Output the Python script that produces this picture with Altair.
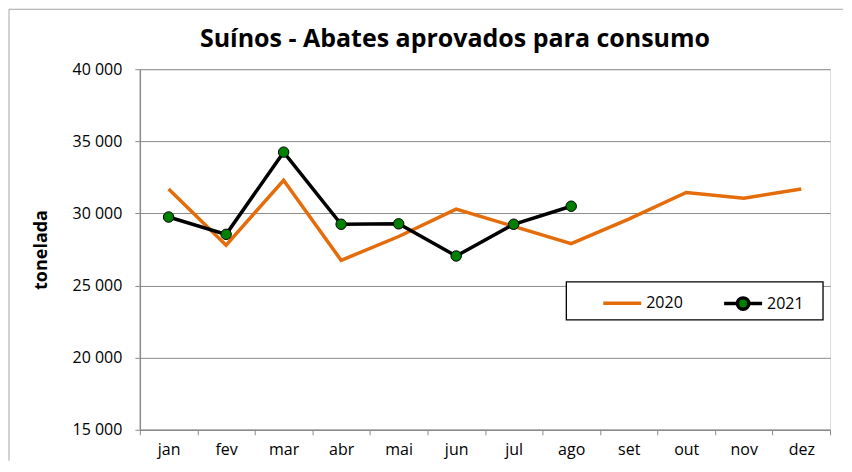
import pandas as pd
import altair as alt

MESES = ["jan", "fev", "mar", "abr", "mai", "jun", "jul", "ago", "set", "out", "nov", "dez"]
ANOS = ["2020", "2021"]
V2020 = [31700, 27800, 32300, 26750, 28400, 30300, 29100, 27900, 29600, 31450, 31050, 31700]
V2021 = [29750, 28550, 34250, 29250, 29280, 27050, 29250, 30500]
Y_TICKS = [15000, 20000, 25000, 30000, 35000, 40000]

FONT = "Open Sans"
LARANJA = "#E46C0A"
CINZA = "#8C8C8C"

rows = []
for ano, vals in zip(ANOS, [V2020, V2021]):
    for m, v in zip(MESES, vals):
        rows.append({"mes": m, "ano": ano, "valor": v})
df = pd.DataFrame(rows)

W, H = 691, 361

x_enc = alt.X("mes:N", sort=MESES, title=None,
              scale=alt.Scale(type="band", domain=MESES, paddingInner=0, paddingOuter=0),
              axis=alt.Axis(tickBand="extent", labelAngle=0, labelFontSize=16, labelFont=FONT,
                            labelColor="black", tickColor=CINZA, domainColor=CINZA,
                            tickSize=5, labelPadding=7, grid=False, domainWidth=1.5))
y_enc = alt.Y("valor:Q", title="tonelada",
              scale=alt.Scale(domain=[15000, 40000], nice=False, zero=False),
              axis=alt.Axis(values=Y_TICKS, labelExpr="replace(format(datum.value, ','), ',', ' ')",
                            labelFontSize=16, labelFont=FONT, labelColor="black",
                            tickColor=CINZA, domainColor=CINZA, tickSize=5, labelPadding=13,
                            gridColor=CINZA, gridWidth=1, domainWidth=1.5,
                            titleFont=FONT, titleFontSize=18, titleFontWeight="bold",
                            titleColor="black", titlePadding=22))

# simbolos da legenda: linha simples (2020) e linha com bolinha (2021)
PATH_2020 = "M-1,0L1,0M0,-0.34L0,-0.34M0,0.34L0,0.34"
PATH_2021 = ("M-1,0L-0.3,0M0.3,0L1,0"
             "M0.3,0A0.3,0.3,0,1,1,-0.3,0A0.3,0.3,0,1,1,0.3,0Z")

def legenda():
    return alt.Legend(
        title=None, orient="none", legendX=462, legendY=213, direction="horizontal",
        symbolSize=1444, symbolStrokeWidth=3.5, symbolFillColor="green",
        labelFont=FONT, labelFontSize=16, labelColor="black", labelOffset=3,
        columnPadding=34, padding=0,
    )

base = alt.Chart(df)

linhas = base.mark_line(strokeWidth=3.5).encode(
    x=x_enc, y=y_enc,
    color=alt.Color("ano:N", scale=alt.Scale(domain=ANOS, range=[LARANJA, "black"]), legend=legenda()),
)

pontos = base.transform_filter("datum.ano == '2021'").mark_point(
    filled=True, fill="green", stroke="black", strokeWidth=1, size=110, opacity=1
).encode(x=x_enc, y=y_enc)

# camada vazia so para dar forma aos simbolos da legenda
forma = base.transform_filter("false").mark_point(opacity=1).encode(
    x=x_enc, y=y_enc,
    shape=alt.Shape("ano:N", scale=alt.Scale(domain=ANOS, range=[PATH_2020, PATH_2021]), legend=legenda()),
    fill=alt.Fill("ano:N", scale=alt.Scale(domain=ANOS, range=["transparent", "green"]), legend=legenda()),
)

moldura = alt.Chart(pd.DataFrame({"k": [0]}))
caixa_legenda = moldura.mark_rect(fill="white", stroke="black", strokeWidth=1.3).encode(
    x=alt.value(427), x2=alt.value(684), y=alt.value(213), y2=alt.value(251))
borda_topo = moldura.mark_rule(color="#A6A6A6", strokeWidth=1).encode(
    x=alt.value(-131), x2=alt.value(704), y=alt.value(-60))
borda_esq = moldura.mark_rule(color="#A6A6A6", strokeWidth=1).encode(
    x=alt.value(-131), y=alt.value(-60), y2=alt.value(392))

chart = alt.layer(borda_topo, borda_esq, linhas, pontos, caixa_legenda, forma).properties(
    width=W, height=H, padding=0,
    title=alt.TitleParams("Suínos - Abates aprovados para consumo", font=FONT, fontSize=25,
                          fontWeight="bold", color="black", anchor="middle", frame="group",
                          baseline="alphabetic", dx=-30, offset=-63),
).configure_view(stroke=None).configure(background="white")

chart.save("out.html", embed_options={"renderer": "svg", "actions": False})
